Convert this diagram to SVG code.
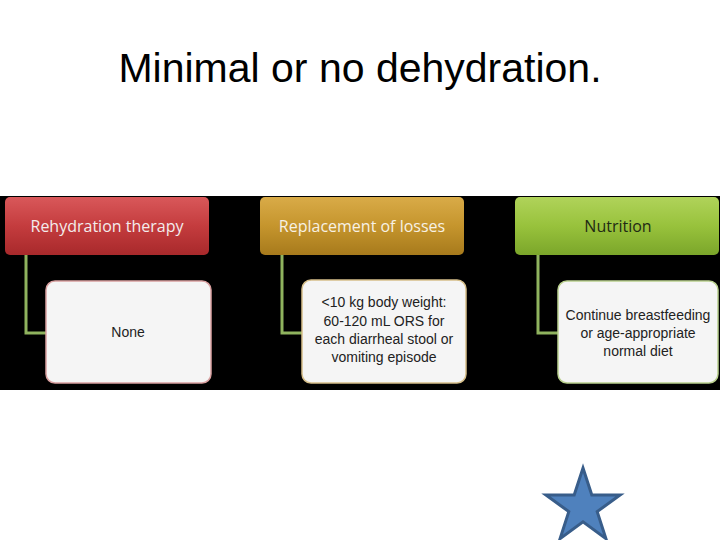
<svg xmlns="http://www.w3.org/2000/svg" width="720" height="540" viewBox="0 0 720 540">
<defs>
<linearGradient id="gRed" x1="0" y1="0" x2="0" y2="1"><stop offset="0" stop-color="#d9585a"/><stop offset="0.5" stop-color="#c43c3e"/><stop offset="1" stop-color="#a8292b"/></linearGradient>
<linearGradient id="gGold" x1="0" y1="0" x2="0" y2="1"><stop offset="0" stop-color="#d9ab48"/><stop offset="0.5" stop-color="#c5952d"/><stop offset="1" stop-color="#a77a1c"/></linearGradient>
<linearGradient id="gGreen" x1="0" y1="0" x2="0" y2="1"><stop offset="0" stop-color="#b0d35a"/><stop offset="0.5" stop-color="#98c23c"/><stop offset="1" stop-color="#7ba62a"/></linearGradient>
</defs>
<style>
.title{font-family:"Liberation Sans","Open Sans",sans-serif;font-size:41px;fill:#000;text-anchor:middle}
.hd{font-family:"Open Sans","Liberation Sans",sans-serif;font-size:16px;text-anchor:middle}
.bd{font-family:"Liberation Sans","Open Sans",sans-serif;font-size:14px;fill:#222;text-anchor:middle}
.body{fill:#f5f5f5;stroke-width:1.5}
.conn{fill:none;stroke:#8fb35e;stroke-width:3}
</style>
<rect width="720" height="540" fill="#fff"/>
<text class="title" x="360" y="82">Minimal or no dehydration.</text>
<rect x="0" y="196" width="720" height="194" fill="#000"/>
<g id="connectors">
<path class="conn" d="M26,255 V333 H46"/>
<path class="conn" d="M282,255 V333 H302"/>
<path class="conn" d="M538,255 V333 H558"/>
</g>
<g id="rehydration">
<rect x="5" y="197" width="204" height="58" rx="5" fill="url(#gRed)"/>
<text class="hd" x="107" y="232" fill="#f3ecec">Rehydration therapy</text>
</g>
<g id="none">
<rect class="body" x="46" y="281" width="165" height="102" rx="9" stroke="#d9a0a0"/>
<text class="bd" x="128" y="337">None</text>
</g>
<g id="replacement">
<rect x="260" y="197" width="204" height="58" rx="5" fill="url(#gGold)"/>
<text class="hd" x="362" y="232" fill="#f7f1e4">Replacement of losses</text>
</g>
<g id="losses">
<rect class="body" x="302" y="280" width="164" height="103" rx="9" stroke="#d6bf8a"/>
<text class="bd" x="384" y="307">&lt;10 kg body weight:</text>
<text class="bd" x="384" y="326">60-120 mL ORS for</text>
<text class="bd" x="384" y="344">each diarrheal stool or</text>
<text class="bd" x="384" y="362">vomiting episode</text>
</g>
<g id="nutrition">
<rect x="515" y="197" width="204" height="58" rx="5" fill="url(#gGreen)"/>
<text class="hd" x="618" y="232" fill="#1f2a14">Nutrition</text>
</g>
<g id="diet">
<rect class="body" x="558" y="281" width="160" height="102" rx="9" stroke="#b9d08e"/>
<text class="bd" x="638" y="320">Continue breastfeeding</text>
<text class="bd" x="638" y="338">or age-appropriate</text>
<text class="bd" x="638" y="356">normal diet</text>
</g>
<polygon points="583,468 591.8,494.9 620.1,495 597.2,511.6 605.9,538.6 583,521.9 560.1,538.6 568.8,511.6 545.9,495 574.2,494.9" fill="#4f81bd" stroke="#385d8a" stroke-width="3" stroke-linejoin="miter"/>
</svg>
